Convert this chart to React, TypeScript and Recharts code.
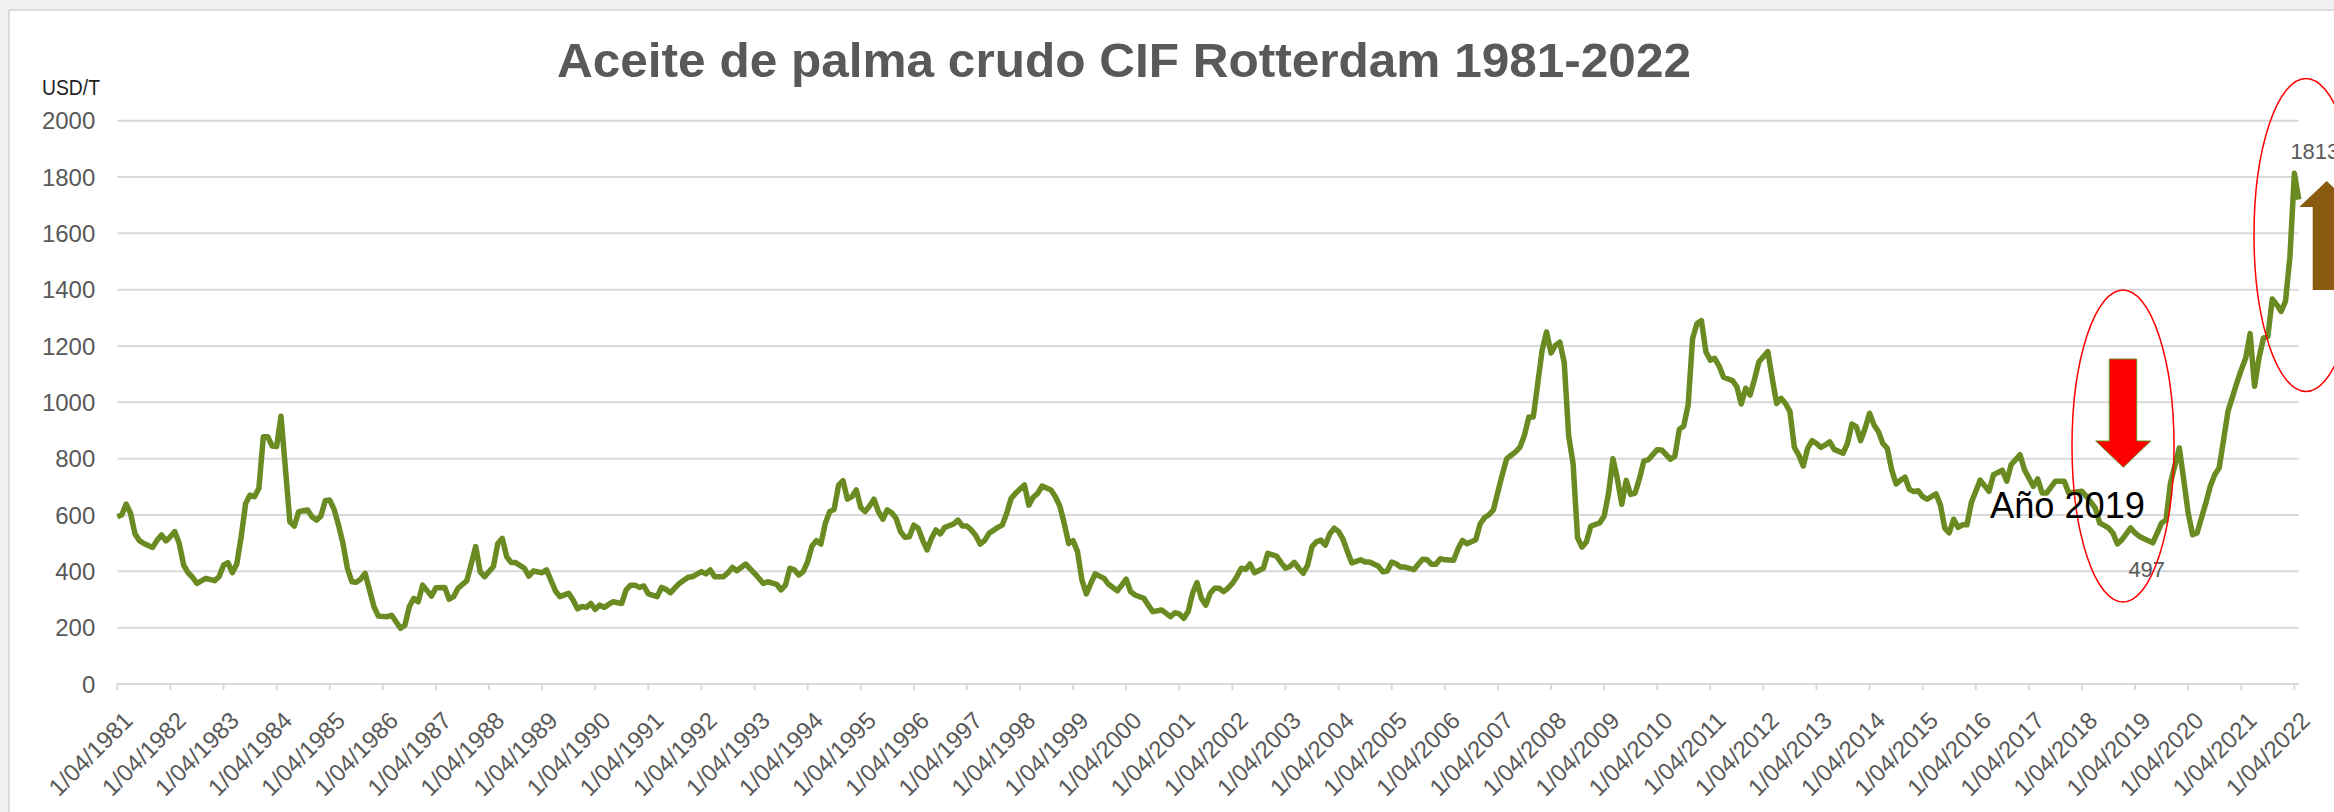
import React from "react";
import { LineChart, Line, XAxis, YAxis, CartesianGrid, LabelList } from "recharts";

// Month offset from 1/04/1981
const mes = [
  0, 1, 2, 3, 4, 5, 6, 8, 9, 10, 11, 12, 13, 14, 15, 16, 17, 18, 20, 22, 23, 24, 25, 26, 27, 28, 29, 30, 31, 32,
  33, 34, 35, 36, 37, 39, 40, 41, 42, 43, 44, 45, 46, 47, 48, 49, 50, 51, 52, 53, 54, 55, 56, 57, 58, 59, 61, 62, 63, 64,
  65, 66, 67, 68, 69, 71, 72, 74, 75, 76, 77, 79, 81, 82, 83, 85, 86, 87, 88, 89, 90, 92, 93, 94, 96, 97, 99, 100, 102, 103,
  104, 105, 106, 107, 108, 109, 110, 112, 114, 115, 116, 117, 118, 119, 120, 122, 123, 124, 125, 127, 129, 130, 132, 133, 134, 135, 137, 138, 139, 140,
  142, 144, 146, 147, 149, 150, 151, 152, 153, 154, 155, 156, 157, 158, 159, 160, 161, 162, 163, 164, 165, 166, 167, 168, 169, 170, 171, 172, 173, 174,
  175, 176, 177, 178, 179, 180, 181, 182, 183, 184, 185, 186, 187, 189, 190, 191, 192, 193, 194, 195, 196, 197, 199, 200, 201, 202, 203, 205, 206, 207,
  208, 209, 211, 212, 213, 214, 215, 216, 217, 218, 219, 220, 221, 223, 224, 226, 227, 228, 229, 230, 232, 233, 234, 236, 238, 239, 240, 241, 242, 243,
  244, 245, 246, 247, 248, 249, 250, 251, 252, 253, 254, 255, 256, 257, 259, 260, 262, 263, 264, 265, 266, 267, 268, 269, 270, 271, 272, 273, 274, 275,
  276, 277, 278, 279, 281, 282, 283, 285, 286, 287, 288, 289, 290, 291, 293, 294, 295, 296, 297, 298, 299, 300, 302, 303, 304, 305, 307, 308, 309, 310,
  311, 312, 313, 314, 315, 316, 317, 318, 319, 320, 321, 322, 323, 324, 325, 326, 327, 328, 329, 330, 331, 332, 333, 335, 336, 337, 338, 339, 340, 341,
  342, 343, 344, 345, 346, 348, 349, 351, 352, 353, 354, 355, 356, 357, 358, 359, 360, 361, 362, 363, 365, 366, 367, 368, 369, 370, 371, 373, 374, 375,
  376, 377, 378, 379, 380, 381, 382, 383, 384, 385, 386, 387, 388, 390, 391, 392, 393, 394, 395, 396, 397, 398, 399, 400, 401, 402, 403, 404, 405, 406,
  407, 408, 409, 411, 412, 413, 414, 415, 416, 417, 418, 419, 421, 423, 424, 426, 427, 428, 430, 431, 433, 434, 435, 436, 438, 440, 441, 444, 445, 447,
  448, 450, 451, 452, 453, 455, 456, 457, 460, 461, 462, 463, 464, 466, 467, 468, 469, 470, 472, 473, 474, 475, 476, 477, 479, 480, 481, 482, 483, 484,
  485, 486, 487, 488, 489, 490, 491, 492, 493,
];

// USD/T
const precio = [
  594, 600, 639, 606, 533, 509, 499, 485, 511, 529, 508, 523, 541, 499, 422, 395, 379, 357, 375, 367, 381, 422, 431, 395, 426, 523, 641, 671, 665, 695,
  878, 878, 845, 843, 951, 576, 561, 612, 615, 618, 594, 582, 596, 651, 653, 620, 564, 499, 411, 363, 361, 372, 393, 334, 275, 241, 239, 244, 221, 198,
  209, 275, 304, 292, 351, 312, 342, 343, 301, 310, 340, 367, 488, 399, 381, 417, 499, 517, 452, 431, 431, 411, 383, 401, 395, 405, 331, 310, 322, 298,
  267, 275, 272, 286, 265, 280, 272, 292, 286, 334, 351, 351, 343, 348, 320, 310, 343, 336, 324, 357, 379, 381, 399, 391, 405, 381, 381, 395, 414, 402,
  426, 393, 357, 363, 354, 334, 351, 411, 405, 387, 399, 434, 490, 509, 497, 570, 612, 620, 706, 722, 656, 665, 689, 627, 612, 632, 656, 612, 585, 618,
  608, 588, 541, 521, 523, 564, 553, 511, 476, 517, 547, 533, 556, 568, 582, 561, 561, 547, 527, 497, 509, 535, 556, 564, 606, 659, 677, 707, 635, 663,
  677, 703, 689, 665, 632, 570, 499, 509, 470, 369, 320, 357, 391, 375, 354, 331, 351, 372, 328, 316, 304, 280, 257, 263, 239, 253, 249, 233, 257, 322,
  360, 304, 280, 322, 340, 340, 328, 340, 357, 381, 411, 407, 426, 395, 411, 464, 454, 431, 411, 417, 432, 411, 393, 422, 488, 505, 511, 493, 533, 553,
  541, 514, 470, 430, 441, 433, 433, 418, 398, 401, 433, 427, 415, 415, 406, 425, 443, 441, 425, 425, 445, 441, 439, 480, 510, 498, 512, 569, 591, 601,
  619, 682, 744, 800, 812, 824, 841, 883, 948, 948, 1066, 1185, 1250, 1175, 1202, 1214, 1140, 880, 782, 520, 486, 504, 560, 572, 595, 676, 800, 729, 638, 723,
  673, 678, 729, 792, 796, 832, 831, 798, 809, 904, 916, 991, 1227, 1280, 1290, 1180, 1150, 1156, 1129, 1089, 1077, 1056, 994, 1050, 1026, 1082, 1144, 1180, 1085, 996,
  1014, 996, 967, 840, 813, 774, 837, 864, 854, 840, 849, 860, 833, 819, 854, 923, 914, 864, 908, 961, 920, 896, 854, 837, 760, 710, 724, 734, 691, 683,
  686, 665, 656, 675, 636, 553, 537, 585, 556, 565, 565, 644, 724, 684, 743, 759, 720, 779, 814, 761, 702, 728, 678, 678, 720, 720, 678, 684, 666, 625,
  572, 554, 536, 497, 512, 554, 536, 524, 501, 536, 572, 583, 714, 838, 725, 607, 530, 536, 643, 702, 743, 767, 867, 968, 1069, 1116, 1157, 1244, 1057, 1157,
  1228, 1234, 1367, 1347, 1323, 1359, 1518, 1813, 1720,
];

const etiquetasX = [
  "1/04/1981", "1/04/1982", "1/04/1983", "1/04/1984", "1/04/1985", "1/04/1986", "1/04/1987", "1/04/1988", "1/04/1989",
  "1/04/1990", "1/04/1991", "1/04/1992", "1/04/1993", "1/04/1994", "1/04/1995", "1/04/1996", "1/04/1997", "1/04/1998",
  "1/04/1999", "1/04/2000", "1/04/2001", "1/04/2002", "1/04/2003", "1/04/2004", "1/04/2005", "1/04/2006", "1/04/2007",
  "1/04/2008", "1/04/2009", "1/04/2010", "1/04/2011", "1/04/2012", "1/04/2013", "1/04/2014", "1/04/2015", "1/04/2016",
  "1/04/2017", "1/04/2018", "1/04/2019", "1/04/2020", "1/04/2021", "1/04/2022",
];
const ticksY = [0, 200, 400, 600, 800, 1000, 1200, 1400, 1600, 1800, 2000];
// months whose value carries a data label (min 2019, max 2022)
const mesesEtiquetados = [452, 492];

const titulo = "Aceite de palma crudo CIF Rotterdam 1981-2022";
const unidad = "USD/T";
const anotacion = "Año 2019";

const datos = mes.map((m, i) => ({ mes: m, precio: precio[i] }));
const ticksX = etiquetasX.map((_, i) => i * 12);

const FONT = "'Liberation Sans', Arial, sans-serif";
const GRIS = "#595959";
const VERDE = "#6a8a22";

const TickX = (props: any) => {
  const { x, y, payload } = props;
  const label = etiquetasX[Math.round(payload.value / 12)] ?? "";
  return (
    <g transform={`translate(${x + 5},${y})`}>
      <text
        x={0}
        y={0}
        dy={17}
        textAnchor="end"
        transform="rotate(-45)"
        fill={GRIS}
        fontSize={24}
        fontFamily={FONT}
      >
        {label}
      </text>
    </g>
  );
};

const EtiquetaDato = (props: any) => {
  const { x, y, value, index } = props;
  const punto = datos[index];
  if (!punto || !mesesEtiquetados.includes(punto.mes)) return null;
  if (punto.mes === 452) {
    return (
      <text x={x + 11} y={y + 33} fill={GRIS} fontSize={22} fontFamily={FONT}>
        {value}
      </text>
    );
  }
  return (
    <text x={x - 4} y={y - 14} fill={GRIS} fontSize={22} fontFamily={FONT}>
      {value}
    </text>
  );
};

export default function App() {
  return (
    <div
      style={{
        position: "absolute",
        left: 0,
        top: 0,
        width: 2334,
        height: 812,
        background: "#f0f0f0",
        overflow: "hidden",
      }}
    >
      <div
        style={{
          position: "absolute",
          left: 8,
          top: 9,
          width: 2400,
          height: 900,
          background: "#ffffff",
          borderLeft: "2px solid #dcdcdc",
          borderTop: "2px solid #dcdcdc",
        }}
      />
      <div style={{ position: "absolute", left: 0, top: 0 }}>
        <LineChart
          width={2334}
          height={812}
          data={datos}
          margin={{ top: 120.7, right: 35.2, bottom: 28, left: 0 }}
        >
          <CartesianGrid vertical={false} stroke="#d9d9d9" strokeWidth={2} />
          <XAxis
            dataKey="mes"
            type="number"
            scale="linear"
            domain={[0, 493]}
            ticks={ticksX}
            interval={0}
            height={100}
            tick={<TickX />}
            tickSize={6}
            tickMargin={20}
            axisLine={{ stroke: "#d9d9d9", strokeWidth: 2 }}
            tickLine={{ stroke: "#d9d9d9", strokeWidth: 2 }}
          />
          <YAxis
            domain={[0, 2000]}
            ticks={ticksY}
            interval={0}
            width={117.3}
            axisLine={false}
            tickLine={false}
            tickSize={0}
            tickMargin={22}
            tick={{ fill: GRIS, fontSize: 24, fontFamily: FONT }}
          />
          <Line
            type="linear"
            dataKey="precio"
            stroke={VERDE}
            strokeWidth={5.5}
            strokeLinejoin="round"
            dot={false}
            isAnimationActive={false}
          >
            <LabelList dataKey="precio" content={<EtiquetaDato />} />
          </Line>
        </LineChart>
      </div>
      <svg
        width={2334}
        height={812}
        style={{ position: "absolute", left: 0, top: 0, pointerEvents: "none" }}
      >
        <text
          x={1124}
          y={77}
          textAnchor="middle"
          fill={GRIS}
          fontSize={49}
          fontWeight="bold"
          fontFamily={FONT}
          textLength={1134}
          lengthAdjust="spacingAndGlyphs"
        >
          {titulo}
        </text>
        <text x={42} y={95} fill="#1f1f1f" fontSize={22} fontFamily={FONT} textLength={58} lengthAdjust="spacingAndGlyphs">
          {unidad}
        </text>
        <ellipse cx={2123} cy={446} rx={51} ry={156} fill="none" stroke="#ff0000" strokeWidth={1.5} />
        <ellipse cx={2306} cy={235} rx={52} ry={156.5} fill="none" stroke="#ff0000" strokeWidth={1.5} />
        <polygon
          points="2109.3,359 2136.7,359 2136.7,441 2150.7,441 2123.3,467.3 2095.7,441 2109.3,441"
          fill="#ff0000"
          stroke="#6b8e23"
          strokeWidth={1}
        />
        <polygon
          points="2326.7,181 2354,207 2340.7,207 2340.7,290 2312.7,290 2312.7,207 2299.3,207"
          fill="#8a5a10"
        />
        <text x={1990} y={518} fill="#000000" fontSize={36} fontFamily={FONT} textLength={155} lengthAdjust="spacingAndGlyphs">
          {anotacion}
        </text>
      </svg>
    </div>
  );
}
